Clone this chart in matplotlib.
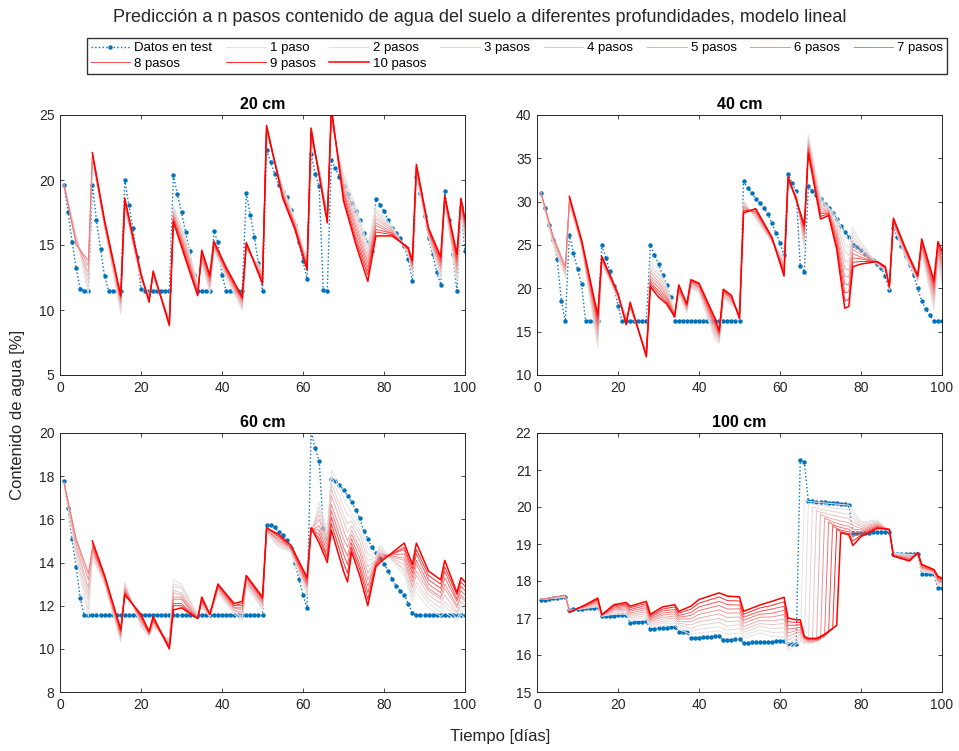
import numpy as np
import matplotlib
matplotlib.use('Agg')
import matplotlib.pyplot as plt

plt.rcParams['font.family'] = ['Liberation Sans', 'DejaVu Sans']

dias = np.arange(1, 101)

# datos de test (un valor por dia)
test_20 = ([19.6, 17.55, 15.2, 13.2, 11.63, 11.5, 11.5, 19.65, 16.9, 14.7, 12.6,
            11.5, 11.5, 11.5, 11.5, 20.0, 18.05, 16.3, 14.1, 11.6]
           + [11.5] * 7 + [20.35, 18.9, 17.5, 16.0, 14.5, 12.7] + [11.5] * 4
           + [16.06, 15.2, 12.7] + [11.5] * 5
           + [19.0, 17.3, 15.6, 13.6, 11.5,
              22.3, 21.4, 20.5, 19.6, 19.1, 18.7, 17.7, 16.5, 15.2, 13.75, 12.4,
              22.0, 20.5, 19.5, 11.55, 11.5,
              21.55, 20.9, 20.2, 19.55, 18.9, 18.2, 17.6, 16.9, 15.9, 15.2, 14.55,
              18.5, 18.1, 17.6, 16.9, 16.3, 15.9, 15.5, 14.9, 13.9, 12.2,
              20.2, 19.0, 17.25, 15.5, 14.3, 12.9, 11.95,
              19.15, 16.9, 14.3, 11.5, 17.9, 14.5])

test_40 = ([30.97, 29.3, 27.3, 25.55, 23.35, 18.55, 16.2, 26.2, 24.1, 22.2, 20.45]
           + [16.2] * 4 + [24.95, 23.5, 22.0, 20.3, 18.0] + [16.2] * 7
           + [24.98, 23.9, 22.8, 21.5, 20.4, 18.95] + [16.2] * 17
           + [32.35, 31.6, 31.05, 30.3, 29.85, 29.3, 28.55, 27.5, 26.4, 25.2, 23.8,
              33.15, 32.1, 31.2, 22.6, 21.9,
              31.8, 31.2, 30.75, 30.3, 29.75, 29.3, 28.7, 28.0, 27.2, 26.55, 25.9,
              25.05, 24.8, 24.4, 23.95, 23.6, 23.25, 22.85, 22.35, 21.4, 19.8,
              27.0, 25.95, 24.9, 23.7, 22.7, 21.5, 20.0, 18.5, 17.6, 16.9,
              16.2, 16.2, 16.2])

test_60 = ([17.77, 16.52, 15.08, 13.77, 12.35] + [11.55] * 45
           + [15.73, 15.76, 15.63, 15.4, 15.27, 15.05, 14.65, 14.0, 13.23, 12.5, 11.89,
              20.1, 19.3, 18.7, 15.58, 15.13,
              17.87, 17.77, 17.6, 17.35, 17.1, 16.8, 16.45, 16.05, 15.45, 15.1, 14.7,
              14.45, 14.2, 13.95, 13.6, 13.25, 12.9, 12.7, 12.5, 12.1, 11.65]
           + [11.55] * 13)

test_100 = [17.49, 17.5, 17.51, 17.53, 17.54, 17.56, 17.58,
            17.22, 17.23, 17.24, 17.25, 17.26, 17.27, 17.28, 17.29,
            17.05, 17.05, 17.06, 17.06, 17.07, 17.07, 17.08,
            16.87, 16.88, 16.89, 16.9, 16.91,
            16.7, 16.71, 16.72, 16.73, 16.74, 16.75, 16.76,
            16.62, 16.62, 16.63,
            16.45, 16.46, 16.47, 16.48, 16.49, 16.5, 16.51, 16.52,
            16.4, 16.41, 16.41, 16.42, 16.43,
            16.33, 16.33, 16.34, 16.34, 16.35, 16.35, 16.36, 16.36, 16.37, 16.37, 16.38,
            16.3, 16.3, 16.31,
            21.26, 21.21,
            20.16, 20.15, 20.14, 20.14, 20.13, 20.12, 20.11, 20.1, 20.09, 20.07, 20.05,
            19.3, 19.3, 19.31, 19.31, 19.31, 19.32, 19.32, 19.32, 19.33, 19.33,
            18.72, 18.72, 18.73, 18.73, 18.73, 18.74, 18.74,
            18.19, 18.19, 18.2, 18.2,
            17.81, 17.81]

# predicciones: una fila por dia nodo, columnas = 1..10 pasos
N = None
nodos_20 = [1, 4, 7, 8, 11, 15, 16, 20, 22, 23, 27, 28, 31, 34, 35, 37, 38, 41, 45, 46,
            50, 51, 55, 58, 61, 62, 64, 66, 67, 70, 73, 76, 78, 82, 86, 87, 88, 91, 94,
            95, 98, 99, 100]
pred_20 = [
    [19.6, 19.6, 19.6, 19.6, 19.6, 19.6, 19.6, N, N, N],
    [15.8, 15.7, 15.6, 15.5, 15.3, 15.2, 15.0, N, N, N],
    [11.2, 11.6, 12.1, 12.5, 12.9, 13.4, 13.8, N, N, N],
    [21.6, 21.7, 21.7, 21.8, 21.8, 21.9, 21.9, 22.0, 22.0, 22.1],
    [16.3, 16.4, 16.4, 16.5, 16.6, 16.6, 16.7, 16.8, 16.8, 16.9],
    [9.7, 9.9, 10.1, 10.3, 10.5, 10.6, 10.8, 10.9, 11.0, 11.1],
    [17.8, 17.9, 18.0, 18.1, 18.2, 18.2, 18.3, 18.4, 18.5, 18.6],
    [12.2, 12.3, 12.3, 12.4, 12.5, 12.5, 12.6, 12.7, 12.7, 12.8],
    [11.2, 11.1, 11.1, 11.0, 10.9, 10.9, 10.8, 10.7, 10.7, 10.6],
    [12.5, 12.6, 12.6, 12.7, 12.7, 12.8, 12.8, 12.9, 12.9, 13.0],
    [9.4, 9.3, 9.3, 9.2, 9.1, 9.1, 9.0, 8.9, 8.9, 8.8],
    [18.0, 17.9, 17.7, 17.6, 17.5, 17.3, 17.2, 17.1, 16.9, 16.8],
    [15.6, 15.4, 15.2, 15.0, 14.9, 14.7, 14.5, 14.3, 14.1, 13.9],
    [12.0, 11.9, 11.8, 11.7, 11.6, 11.5, 11.4, 11.3, 11.2, 11.1],
    [13.6, 13.7, 13.8, 13.9, 14.0, 14.1, 14.2, 14.4, 14.5, 14.6],
    [11.3, 11.5, 11.6, 11.8, 11.9, 12.1, 12.2, 12.4, 12.5, 12.7],
    [14.6, 14.7, 14.8, 14.8, 14.9, 15.0, 15.1, 15.1, 15.2, 15.3],
    [12.5, 12.6, 12.7, 12.8, 12.9, 12.9, 13.0, 13.1, 13.2, 13.3],
    [10.0, 10.1, 10.2, 10.3, 10.4, 10.6, 10.7, 10.8, 10.9, 11.0],
    [14.6, 14.7, 14.7, 14.8, 14.9, 14.9, 15.0, 15.1, 15.1, 15.2],
    [13.2, 13.1, 12.9, 12.8, 12.7, 12.5, 12.4, 12.3, 12.1, 12.0],
    [23.5, 23.6, 23.7, 23.7, 23.8, 23.9, 24.0, 24.0, 24.1, 24.2],
    [19.5, 19.4, 19.3, 19.2, 19.1, 19.0, 18.9, 18.8, 18.7, 18.6],
    [17.0, 16.9, 16.8, 16.7, 16.6, 16.6, 16.5, 16.4, 16.3, 16.2],
    [13.8, 13.7, 13.6, 13.6, 13.5, 13.4, 13.3, 13.3, 13.2, 13.1],
    [22.6, 22.8, 22.9, 23.1, 23.2, 23.4, 23.5, 23.7, 23.8, 24.0],
    [21.0, 20.9, 20.8, 20.8, 20.7, 20.6, 20.5, 20.5, 20.4, 20.3],
    [17.4, 17.3, 17.2, 17.2, 17.1, 17.0, 16.9, 16.9, 16.8, 16.7],
    [24.2, 24.4, 24.5, 24.7, 24.8, 25.0, 25.1, 25.3, 25.4, 25.6],
    [20.5, 20.3, 20.0, 19.8, 19.6, 19.3, 19.1, 18.9, 18.6, 18.4],
    [18.0, 17.7, 17.4, 17.0, 16.7, 16.4, 16.1, 15.7, 15.4, 15.1],
    [15.0, 14.7, 14.4, 14.1, 13.8, 13.6, 13.3, 13.0, 12.7, 12.2],
    [18.0, 17.7, 17.5, 17.2, 17.0, 16.7, 16.5, 16.2, 16.0, 15.7],
    [16.4, 16.3, 16.2, 16.2, 16.1, 16.0, 15.9, 15.9, 15.8, 15.7],
    [14.3, 14.4, 14.4, 14.5, 14.5, 14.6, 14.6, 14.7, 14.7, 14.8],
    [12.7, 12.8, 13.0, 13.1, 13.2, 13.3, 13.4, 13.6, 13.7, 13.8],
    [20.3, 20.4, 20.5, 20.6, 20.7, 20.8, 20.9, 21.0, 21.1, 21.2],
    [15.6, 15.7, 15.8, 15.8, 15.9, 16.0, 16.1, 16.1, 16.2, 16.3],
    [12.4, 12.6, 12.8, 13.0, 13.2, 13.3, 13.5, 13.7, 13.9, 14.1],
    [18.3, 18.4, 18.4, 18.5, 18.5, 18.6, 18.6, 18.7, 18.7, 18.8],
    [12.1, 12.3, 12.6, 12.8, 13.1, 13.3, 13.6, 13.8, 14.1, 14.3],
    [17.8, 17.9, 18.0, 18.1, 18.2, 18.2, 18.3, 18.4, 18.5, 18.6],
    [15.2, 15.4, 15.6, 15.8, 16.0, 16.2, 16.4, 16.6, 16.8, 17.0],
]

nodos_40 = [1, 4, 7, 8, 11, 15, 16, 20, 22, 23, 27, 28, 30, 32, 34, 35, 37, 38, 40, 44,
            45, 46, 48, 50, 51, 54, 58, 61, 62, 64, 66, 67, 70, 72, 74, 76, 77, 78, 80,
            84, 86, 87, 88, 91, 94, 95, 98, 99, 100]
pred_40 = [
    [31.0, 31.0, 31.0, 31.0, 31.0, 31.0, 31.0, N, N, N],
    [25.0, 25.2, 25.3, 25.5, 25.7, 25.8, 26.0, N, N, N],
    [21.3, 21.5, 21.7, 21.9, 22.1, 22.3, 22.5, N, N, N],
    [29.6, 29.7, 29.8, 29.9, 30.0, 30.2, 30.3, 30.4, 30.5, 30.6],
    [24.8, 24.9, 25.0, 25.1, 25.2, 25.2, 25.3, 25.4, 25.5, 25.6],
    [13.2, 13.6, 14.0, 14.4, 14.8, 15.3, 15.7, 16.1, 16.5, 16.9],
    [22.8, 22.9, 23.0, 23.1, 23.2, 23.3, 23.4, 23.5, 23.6, 23.7],
    [18.8, 18.9, 18.9, 19.0, 19.1, 19.1, 19.2, 19.3, 19.3, 19.4],
    [17.0, 16.9, 16.7, 16.6, 16.5, 16.3, 16.2, 16.1, 15.9, 15.8],
    [17.6, 17.7, 17.8, 17.9, 18.0, 18.0, 18.1, 18.2, 18.3, 18.4],
    [12.8, 12.7, 12.6, 12.6, 12.5, 12.4, 12.3, 12.3, 12.2, 12.1],
    [23.0, 22.7, 22.4, 22.1, 21.8, 21.4, 21.1, 20.8, 20.5, 20.2],
    [22.3, 21.9, 21.6, 21.2, 20.8, 20.5, 20.1, 19.7, 19.4, 19.0],
    [20.3, 20.1, 19.8, 19.6, 19.4, 19.1, 18.9, 18.7, 18.4, 18.2],
    [17.3, 17.2, 17.2, 17.1, 17.0, 17.0, 16.9, 16.8, 16.8, 16.7],
    [19.3, 19.4, 19.5, 19.7, 19.8, 19.9, 20.0, 20.2, 20.3, 20.4],
    [17.2, 17.3, 17.4, 17.5, 17.6, 17.8, 17.9, 18.0, 18.1, 18.2],
    [20.0, 20.1, 20.2, 20.3, 20.4, 20.6, 20.7, 20.8, 20.9, 21.0],
    [19.5, 19.6, 19.7, 19.9, 20.0, 20.1, 20.2, 20.4, 20.5, 20.6],
    [14.0, 14.3, 14.6, 14.8, 15.1, 15.4, 15.7, 15.9, 16.2, 16.5],
    [13.6, 13.8, 13.9, 14.1, 14.3, 14.4, 14.6, 14.8, 14.9, 15.1],
    [18.9, 19.0, 19.1, 19.2, 19.3, 19.5, 19.6, 19.7, 19.8, 19.9],
    [18.0, 18.1, 18.3, 18.4, 18.5, 18.7, 18.8, 18.9, 19.1, 19.2],
    [17.6, 17.5, 17.4, 17.2, 17.1, 17.0, 16.9, 16.7, 16.6, 16.5],
    [30.2, 30.0, 29.9, 29.7, 29.5, 29.4, 29.2, 29.0, 28.9, 28.7],
    [28.0, 28.1, 28.3, 28.4, 28.5, 28.7, 28.8, 28.9, 29.1, 29.2],
    [25.3, 25.4, 25.4, 25.5, 25.6, 25.6, 25.7, 25.8, 25.8, 25.9],
    [23.5, 23.3, 23.0, 22.8, 22.6, 22.3, 22.1, 21.9, 21.6, 21.4],
    [32.0, 32.1, 32.2, 32.3, 32.4, 32.4, 32.5, 32.6, 32.7, 32.9],
    [31.0, 30.9, 30.8, 30.7, 30.6, 30.6, 30.5, 30.4, 30.3, 30.2],
    [24.5, 24.8, 25.1, 25.4, 25.7, 26.1, 26.4, 26.7, 27.0, 27.3],
    [37.7, 37.5, 37.2, 37.0, 36.8, 36.5, 36.3, 36.1, 35.8, 35.6],
    [30.5, 30.2, 29.9, 29.7, 29.4, 29.1, 28.8, 28.6, 28.3, 28.0],
    [29.3, 29.2, 29.1, 29.0, 28.9, 28.9, 28.8, 28.7, 28.6, 28.4],
    [28.3, 27.9, 27.5, 27.0, 26.6, 26.2, 25.8, 25.4, 24.9, 24.5],
    [26.0, 25.1, 24.2, 23.2, 22.3, 21.4, 20.5, 19.5, 18.6, 17.7],
    [25.5, 24.7, 23.8, 23.0, 22.1, 21.3, 20.4, 19.6, 18.7, 17.9],
    [27.0, 26.5, 26.0, 25.5, 25.0, 24.5, 24.0, 23.5, 23.0, 22.5],
    [25.3, 25.0, 24.7, 24.5, 24.2, 23.9, 23.6, 23.4, 23.1, 22.8],
    [22.8, 22.8, 22.9, 22.9, 22.9, 23.0, 23.0, 23.0, 23.1, 23.1],
    [22.0, 22.1, 22.1, 22.2, 22.2, 22.3, 22.3, 22.4, 22.4, 22.5],
    [19.8, 19.8, 19.9, 19.9, 20.0, 20.0, 20.1, 20.1, 20.2, 20.2],
    [27.3, 27.4, 27.5, 27.6, 27.6, 27.7, 27.8, 27.9, 28.0, 28.1],
    [23.6, 23.7, 23.8, 23.9, 24.0, 24.2, 24.3, 24.4, 24.5, 24.6],
    [20.8, 20.9, 20.9, 21.0, 21.1, 21.2, 21.3, 21.3, 21.4, 21.5],
    [24.0, 24.2, 24.4, 24.6, 24.8, 24.9, 25.1, 25.3, 25.5, 25.7],
    [17.5, 17.9, 18.3, 18.6, 19.0, 19.4, 19.8, 20.1, 20.5, 20.9],
    [23.0, 23.3, 23.5, 23.8, 24.1, 24.3, 24.6, 24.9, 25.1, 25.4],
    [20.5, 20.9, 21.3, 21.8, 22.2, 22.6, 23.0, 23.4, 23.9, 24.3],
]

nodos_60 = [1, 4, 7, 8, 11, 15, 16, 20, 22, 23, 27, 28, 30, 34, 35, 37, 39, 43, 45, 46,
            50, 51, 54, 57, 61, 62, 64, 66, 67, 70, 71, 72, 74, 76, 78, 79, 85, 87, 88,
            91, 94, 95, 98, 99, 100]
pred_60 = [
    [17.7, 17.7, 17.7, 17.7, 17.7, 17.7, 17.7, N, N, N],
    [14.2, 14.4, 14.5, 14.7, 14.8, 15.0, 15.1, N, N, N],
    [11.5, 11.8, 12.2, 12.5, 12.8, 13.2, 13.5, N, N, N],
    [14.2, 14.3, 14.4, 14.5, 14.6, 14.6, 14.7, 14.8, 14.9, 15.0],
    [13.0, 13.0, 13.1, 13.1, 13.2, 13.2, 13.3, 13.3, 13.4, 13.4],
    [10.3, 10.4, 10.4, 10.5, 10.6, 10.6, 10.7, 10.8, 10.8, 10.9],
    [13.1, 13.0, 13.0, 12.9, 12.8, 12.8, 12.7, 12.6, 12.6, 12.5],
    [11.0, 11.1, 11.1, 11.2, 11.3, 11.3, 11.4, 11.5, 11.5, 11.6],
    [10.6, 10.6, 10.6, 10.7, 10.7, 10.7, 10.7, 10.7, 10.8, 10.8],
    [11.0, 11.1, 11.1, 11.2, 11.2, 11.3, 11.3, 11.4, 11.4, 11.5],
    [10.4, 10.4, 10.3, 10.3, 10.2, 10.2, 10.1, 10.1, 10.0, 10.0],
    [13.2, 13.0, 12.9, 12.7, 12.6, 12.4, 12.3, 12.1, 12.0, 11.8],
    [13.0, 12.9, 12.8, 12.6, 12.5, 12.4, 12.3, 12.1, 12.0, 11.9],
    [11.6, 11.6, 11.5, 11.5, 11.5, 11.4, 11.4, 11.4, 11.4, 11.4],
    [11.9, 12.0, 12.0, 12.1, 12.1, 12.2, 12.2, 12.3, 12.3, 12.4],
    [11.5, 11.5, 11.5, 11.5, 11.5, 11.6, 11.6, 11.6, 11.6, 11.6],
    [12.6, 12.6, 12.7, 12.7, 12.8, 12.8, 12.9, 12.9, 13.0, 13.0],
    [11.6, 11.7, 11.7, 11.8, 11.8, 11.9, 11.9, 12.0, 12.0, 12.1],
    [11.3, 11.4, 11.5, 11.6, 11.7, 11.8, 11.9, 12.0, 12.1, 12.2],
    [12.9, 13.0, 13.0, 13.1, 13.1, 13.2, 13.3, 13.3, 13.4, 13.4],
    [11.8, 11.9, 11.9, 12.0, 12.1, 12.1, 12.2, 12.3, 12.3, 12.4],
    [15.4, 15.4, 15.4, 15.5, 15.5, 15.5, 15.5, 15.6, 15.6, 15.6],
    [14.7, 14.8, 14.8, 14.9, 15.0, 15.0, 15.1, 15.2, 15.2, 15.3],
    [14.5, 14.5, 14.6, 14.6, 14.6, 14.7, 14.7, 14.7, 14.8, 14.8],
    [12.5, 12.6, 12.7, 12.8, 12.9, 12.9, 13.0, 13.1, 13.2, 13.3],
    [15.3, 15.4, 15.4, 15.5, 15.5, 15.5, 15.6, 15.6, 15.6, 15.6],
    [16.8, 16.6, 16.4, 16.2, 16.0, 15.7, 15.5, 15.3, 15.1, 14.9],
    [15.5, 15.3, 15.2, 15.0, 14.8, 14.7, 14.5, 14.3, 14.2, 14.0],
    [18.3, 18.0, 17.7, 17.4, 17.1, 16.7, 16.4, 16.1, 15.8, 15.5],
    [17.0, 16.6, 16.2, 15.9, 15.5, 15.1, 14.7, 14.4, 14.0, 13.6],
    [16.6, 16.2, 15.8, 15.4, 15.0, 14.7, 14.3, 13.9, 13.5, 13.1],
    [16.3, 16.1, 15.9, 15.7, 15.5, 15.3, 15.1, 14.9, 14.7, 14.5],
    [15.8, 15.5, 15.3, 15.0, 14.7, 14.5, 14.2, 13.9, 13.7, 13.4],
    [14.7, 14.4, 14.1, 13.8, 13.5, 13.2, 12.9, 12.6, 12.3, 12.0],
    [14.3, 14.2, 14.2, 14.1, 14.1, 14.0, 14.0, 13.9, 13.9, 13.8],
    [14.8, 14.7, 14.6, 14.5, 14.4, 14.4, 14.3, 14.2, 14.1, 14.0],
    [13.4, 13.6, 13.7, 13.9, 14.1, 14.2, 14.4, 14.6, 14.7, 14.9],
    [12.2, 12.4, 12.6, 12.8, 12.9, 13.1, 13.3, 13.5, 13.7, 13.9],
    [12.6, 12.9, 13.1, 13.4, 13.6, 13.9, 14.1, 14.4, 14.6, 14.9],
    [11.9, 12.1, 12.3, 12.5, 12.7, 12.8, 13.0, 13.2, 13.4, 13.6],
    [11.5, 11.7, 11.9, 12.1, 12.3, 12.4, 12.6, 12.8, 13.0, 13.2],
    [11.7, 12.0, 12.2, 12.5, 12.8, 13.0, 13.3, 13.6, 13.8, 14.1],
    [11.3, 11.4, 11.6, 11.7, 11.9, 12.0, 12.2, 12.3, 12.5, 12.6],
    [11.6, 11.8, 12.0, 12.2, 12.4, 12.5, 12.7, 12.9, 13.1, 13.3],
    [11.4, 11.6, 11.8, 12.0, 12.2, 12.3, 12.5, 12.7, 12.9, 13.1],
]

nodos_100 = [1, 7, 8, 12, 15, 16, 19, 22, 23, 27, 28, 31, 34, 35, 38, 40, 45, 47, 50, 51,
             55, 58, 61, 62, 64, 65, 66, 67, 68, 69, 70, 71, 72, 73, 74, 75, 76, 77, 78,
             80, 84, 87, 88, 92, 94, 95, 98, 99, 100]
pred_100 = [
    [17.5, 17.5, 17.5, 17.5, 17.5, 17.5, 17.5, N, N, N],
    [17.56, 17.57, 17.58, 17.59, 17.6, 17.61, 17.62, N, N, N],
    [17.2, 17.2, 17.2, 17.2, 17.2, 17.19, 17.18, 17.17, 17.16, 17.15],
    [17.26, 17.27, 17.28, 17.29, 17.3, 17.31, 17.32, 17.34, 17.35, 17.36],
    [17.3, 17.33, 17.35, 17.38, 17.41, 17.43, 17.46, 17.49, 17.51, 17.54],
    [17.05, 17.05, 17.06, 17.06, 17.07, 17.07, 17.08, 17.08, 17.09, 17.09],
    [17.1, 17.13, 17.16, 17.19, 17.22, 17.24, 17.27, 17.3, 17.33, 17.36],
    [17.1, 17.14, 17.17, 17.21, 17.24, 17.28, 17.31, 17.35, 17.38, 17.42],
    [16.92, 16.96, 17.01, 17.05, 17.1, 17.14, 17.19, 17.23, 17.28, 17.32],
    [16.95, 17.01, 17.06, 17.12, 17.17, 17.23, 17.28, 17.34, 17.39, 17.45],
    [16.75, 16.79, 16.83, 16.87, 16.91, 16.94, 16.98, 17.02, 17.06, 17.1],
    [16.8, 16.86, 16.91, 16.97, 17.02, 17.08, 17.13, 17.19, 17.24, 17.3],
    [16.8, 16.86, 16.92, 16.99, 17.05, 17.11, 17.17, 17.23, 17.3, 17.36],
    [16.7, 16.75, 16.81, 16.86, 16.91, 16.97, 17.02, 17.07, 17.13, 17.18],
    [16.55, 16.64, 16.72, 16.81, 16.9, 16.98, 17.07, 17.15, 17.24, 17.32],
    [16.6, 16.7, 16.8, 16.9, 17.0, 17.1, 17.2, 17.3, 17.4, 17.5],
    [16.65, 16.76, 16.88, 16.99, 17.11, 17.22, 17.34, 17.45, 17.57, 17.68],
    [16.55, 16.67, 16.78, 16.9, 17.01, 17.13, 17.24, 17.36, 17.47, 17.59],
    [16.6, 16.71, 16.82, 16.92, 17.03, 17.14, 17.25, 17.35, 17.46, 17.57],
    [16.45, 16.53, 16.61, 16.69, 16.77, 16.86, 16.94, 17.02, 17.1, 17.18],
    [16.6, 16.68, 16.77, 16.85, 16.93, 17.02, 17.1, 17.18, 17.27, 17.35],
    [16.5, 16.61, 16.71, 16.82, 16.92, 17.03, 17.13, 17.24, 17.34, 17.45],
    [16.5, 16.62, 16.74, 16.85, 16.97, 17.09, 17.21, 17.32, 17.44, 17.56],
    [16.1, 16.2, 16.3, 16.4, 16.5, 16.6, 16.7, 16.8, 16.9, 17.0],
    [16.3, 16.37, 16.44, 16.52, 16.59, 16.66, 16.73, 16.81, 16.88, 16.95],
    [16.35, 16.42, 16.48, 16.55, 16.62, 16.68, 16.75, 16.82, 16.88, 16.95],
    [20.2, 16.3, 16.35, 16.4, 16.42, 16.44, 16.46, 16.48, 16.5, 16.5],
    [20.15, 20.1, 16.3, 16.33, 16.36, 16.38, 16.4, 16.42, 16.44, 16.45],
    [20.14, 20.08, 20.0, 16.32, 16.35, 16.37, 16.4, 16.42, 16.44, 16.45],
    [20.13, 20.06, 19.97, 19.9, 16.36, 16.38, 16.4, 16.42, 16.44, 16.45],
    [20.12, 20.04, 19.94, 19.86, 19.8, 16.42, 16.44, 16.46, 16.48, 16.5],
    [20.11, 20.02, 19.92, 19.83, 19.75, 19.7, 16.5, 16.52, 16.54, 16.56],
    [20.1, 20.0, 19.9, 19.8, 19.7, 19.65, 19.6, 16.6, 16.62, 16.64],
    [20.09, 19.98, 19.88, 19.78, 19.68, 19.6, 19.53, 19.5, 16.7, 16.72],
    [20.08, 19.96, 19.86, 19.75, 19.65, 19.56, 19.48, 19.42, 19.4, 16.8],
    [20.07, 19.95, 19.84, 19.73, 19.62, 19.53, 19.45, 19.38, 19.33, 19.3],
    [20.06, 19.94, 19.82, 19.71, 19.6, 19.5, 19.42, 19.35, 19.3, 19.28],
    [20.05, 19.93, 19.8, 19.69, 19.58, 19.48, 19.4, 19.33, 19.28, 19.25],
    [19.9, 19.8, 19.7, 19.6, 19.5, 19.4, 19.3, 19.2, 19.08, 18.96],
    [19.6, 19.56, 19.51, 19.47, 19.42, 19.38, 19.33, 19.29, 19.24, 19.2],
    [19.65, 19.62, 19.6, 19.57, 19.55, 19.52, 19.5, 19.47, 19.45, 19.42],
    [19.33, 19.34, 19.35, 19.35, 19.36, 19.37, 19.38, 19.38, 19.39, 19.4],
    [18.75, 18.74, 18.73, 18.72, 18.71, 18.71, 18.7, 18.69, 18.68, 18.67],
    [18.72, 18.7, 18.68, 18.66, 18.64, 18.62, 18.6, 18.58, 18.56, 18.54],
    [18.72, 18.73, 18.73, 18.74, 18.74, 18.75, 18.75, 18.76, 18.76, 18.77],
    [18.25, 18.27, 18.29, 18.31, 18.34, 18.36, 18.38, 18.4, 18.43, 18.45],
    [18.2, 18.21, 18.22, 18.24, 18.25, 18.26, 18.27, 18.28, 18.3, 18.31],
    [17.9, 17.93, 17.95, 17.98, 18.0, 18.03, 18.05, 18.08, 18.1, 18.13],
    [17.85, 17.88, 17.9, 17.93, 17.95, 17.98, 18.0, 18.03, 18.05, 18.08],
]

paneles = [
    ('20 cm', test_20, nodos_20, pred_20, (5, 25), np.arange(5, 26, 5)),
    ('40 cm', test_40, nodos_40, pred_40, (10, 40), np.arange(10, 41, 5)),
    ('60 cm', test_60, nodos_60, pred_60, (8, 20), np.arange(8, 21, 2)),
    ('100 cm', test_100, nodos_100, pred_100, (15, 22), np.arange(15, 23, 1)),
]

W, H = 959, 751
fig = plt.figure(figsize=(W / 100, H / 100), dpi=100)

azul = (0, 0.447, 0.741)
gris = np.array([0.9, 0.9, 0.9])
rojo = np.array([1.0, 0.0, 0.0])
texto = (0.15, 0.15, 0.15)

# posiciones de los ejes en pixeles (izq, arriba, der, abajo)
cajas = [(60, 115, 465, 375), (537, 115, 942, 375),
         (60, 433, 465, 692), (537, 433, 942, 692)]

handles = []
for (titulo, test, nodos, pred, ylim, yticks), (x0, y0, x1, y1) in zip(paneles, cajas):
    ax = fig.add_axes([x0 / W, 1 - y1 / H, (x1 - x0) / W, (y1 - y0) / H])
    h_test, = ax.plot(dias, test, ':', color=azul, lw=1.0, marker='o', ms=3.2,
                      mec='none', mfc=azul, label='Datos en test')
    valores = np.array(pred, dtype=float)
    hs = [h_test]
    for n in range(1, 11):
        w = (n / 10) ** 2.0
        col = (1 - w) * gris + w * rojo
        lbl = '1 paso' if n == 1 else '%d pasos' % n
        h, = ax.plot(nodos, valores[:, n - 1], '-', color=col,
                     lw=1.1 if n == 10 else 0.7, label=lbl)
        hs.append(h)
    handles = hs
    ax.set_xlim(0, 100)
    ax.set_ylim(*ylim)
    ax.set_xticks(np.arange(0, 101, 20))
    ax.set_yticks(yticks)
    ax.set_title(titulo, fontsize=11.5, fontweight='bold', pad=4, color='black')
    ax.tick_params(direction='in', length=3, width=0.6, top=True, right=True,
                   labelsize=10, colors=texto, pad=4)
    for sp in ax.spines.values():
        sp.set_color(texto)
        sp.set_linewidth(0.7)

# la leyenda se llena por filas, como en el original
orden = [0, 8, 1, 9, 2, 10, 3, 4, 5, 6, 7]
hl = [handles[i] for i in orden]
fig.legend(handles=hl, labels=[h.get_label() for h in hl],
           loc='center', bbox_to_anchor=(517 / W, 1 - 56 / H),
           ncol=8, fontsize=9.5, frameon=True, fancybox=False,
           edgecolor='black', handlelength=3.0, handletextpad=0.3,
           borderaxespad=0, borderpad=0.3, labelspacing=0.25, columnspacing=1.05)

fig.text(0.5, 1 - 18 / H,
         'Predicción a n pasos contenido de agua del suelo a diferentes profundidades, modelo lineal',
         ha='center', va='center', fontsize=13, color=texto)
fig.text(18 / W, 1 - 415 / H, 'Contenido de agua [%]', rotation=90,
         ha='center', va='center', fontsize=12, color=texto)
fig.text(500 / W, 1 - 736 / H, 'Tiempo [días]', ha='center', va='center',
         fontsize=12, color=texto)

fig.savefig('out.png', dpi=100)
